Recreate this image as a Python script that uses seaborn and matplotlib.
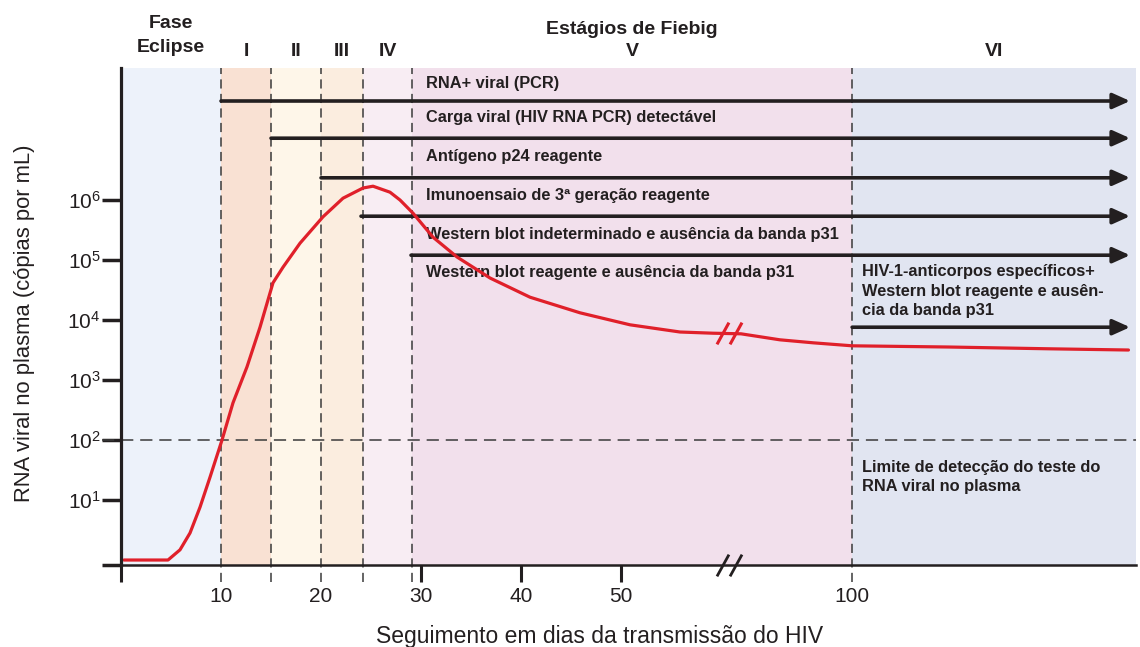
import numpy as np
import pandas as pd
import matplotlib
matplotlib.use("Agg")
import matplotlib.pyplot as plt
import matplotlib.transforms as mtransforms
from matplotlib.path import Path
from matplotlib.ticker import FixedLocator, NullLocator
import seaborn as sns

sns.set_theme(style="white")
NARROW = ['Liberation Sans Narrow', 'Liberation Sans', 'DejaVu Sans']
REGULAR = ['Liberation Sans', 'DejaVu Sans']
plt.rcParams['font.family'] = REGULAR
plt.rcParams['mathtext.fontset'] = 'custom'
plt.rcParams['mathtext.rm'] = 'Liberation Sans'
plt.rcParams['mathtext.it'] = 'Liberation Sans:italic'
plt.rcParams['mathtext.bf'] = 'Liberation Sans:bold'

# --- data ---
# viral load curve: days after transmission, log10 RNA copies/mL
days = [0.3, 4.7, 5.9, 6.9, 7.9, 8.9, 10.1, 11.2, 12.6, 13.9, 15.2, 16.2,
        17.9, 20.2, 22.2, 24.2, 25.2, 26.9, 27.9, 29.2, 31.2, 33.6, 36.9,
        40.9, 45.9, 50.9, 55.9, 59.2, 64.6, 77.0, 87.6, 100, 130.7, 163, 188]
log_rna = [0.0, 0.0, 0.17, 0.45, 0.88, 1.38, 2.0, 2.62, 3.22, 3.88, 4.62, 4.88,
           5.28, 5.72, 6.03, 6.20, 6.23, 6.13, 6.0, 5.78, 5.38, 5.05, 4.70,
           4.38, 4.12, 3.92, 3.80, 3.78, 3.77, 3.67, 3.62, 3.57, 3.55, 3.52, 3.50]

# Fiebig stages
stage_names = ['I', 'II', 'III', 'IV', 'V', 'VI']
stage_edges = [0, 10, 15, 20, 24.2, 29.1, 100, 190.4]
stage_colors = ['#EDF2FA', '#F9E1D3', '#FEF6E9', '#FBEDDF', '#F8EDF3', '#F2E0EC', '#E1E5F1']

# diagnostic tests (arrows)
arrow_start = [10, 15, 20, 24, 29, 100]
arrow_log_y = [7.65, 7.03, 6.37, 5.73, 5.08, 3.88]
ARROW_END = 188.5

test_labels = ['RNA+ viral (PCR)',
               'Carga viral (HIV RNA PCR) detectável',
               'Antígeno p24 reagente',
               'Imunoensaio de 3ª geração reagente',
               'Western blot indeterminado e ausência da banda p31',
               'Western blot reagente e ausência da banda p31',
               'HIV-1-anticorpos específicos+\nWestern blot reagente e ausên-\ncia da banda p31',
               'Limite de detecção do teste do\nRNA viral no plasma']
label_x = [30.5, 30.5, 30.5, 30.5, 30.5, 30.5, 103.2, 103.2]
label_log_y = [7.95, 7.38, 6.72, 6.07, 5.43, 4.80, 4.48, 1.38]

LOD = 100  # copies/mL
x_ticks = [0, 10, 20, 30, 40, 50, 100]
x_ticklabels = ['', '10', '20', '30', '40', '50', '100']
y_ticks_exp = [1, 2, 3, 4, 5, 6]

# --- broken x axis: days beyond BREAK are squeezed ---
BREAK = 60.8
SQUEEZE = 0.314


def fwd(d):
    d = np.asarray(d, dtype=float)
    return np.where(d <= BREAK, d, BREAK + (d - BREAK) * SQUEEZE)


def inv(c):
    c = np.asarray(c, dtype=float)
    return np.where(c <= BREAK, c, BREAK + (c - BREAK) / SQUEEZE)


INK = '#231F20'
RED = '#E0202A'
DASH = '#3A3A3A'
YMIN, YMAX = 10 ** -0.083, 10 ** 8.2

df = pd.DataFrame({'dia': days, 'rna': 10 ** np.array(log_rna)})

fig = plt.figure(figsize=(11.4, 6.47), dpi=100)
ax = fig.add_axes([121 / 1140, 82 / 647, 1015 / 1140, 497 / 647])
ax.set_xscale('function', functions=(fwd, inv))
ax.set_yscale('log')
ax.set_xlim(stage_edges[0], stage_edges[-1])
ax.set_ylim(YMIN, YMAX)

# stage backgrounds
for a, b, col in zip(stage_edges[:-1], stage_edges[1:], stage_colors):
    ax.axvspan(a, b, color=col, lw=0, zorder=0)
for e in stage_edges[1:-1]:
    ax.axvline(e, ymin=-17 / 497, ymax=1, color=DASH, lw=1.1,
               ls=(0, (6, 3.5)), clip_on=False, zorder=1)
ax.axhline(LOD, xmin=-19 / 1015, xmax=1, color=DASH, lw=1.1,
           ls=(0, (8, 4.5)), clip_on=False, zorder=1)

# arrows
for s, ly in zip(arrow_start, arrow_log_y):
    ax.annotate('', xy=(ARROW_END, 10 ** ly), xytext=(s, 10 ** ly),
                arrowprops=dict(arrowstyle='-|>,head_length=0.8,head_width=0.36',
                                mutation_scale=13, lw=2.6, color=INK,
                                shrinkA=0, shrinkB=0), zorder=3)

for txt, lx, ly in zip(test_labels, label_x, label_log_y):
    ax.text(lx, 10 ** ly, txt, family=NARROW, fontweight='bold', fontsize=11.8,
            color=INK, ha='left', va='center', linespacing=1.38, zorder=4)

# viral load curve
sns.lineplot(data=df, x='dia', y='rna', ax=ax, color=RED, lw=2.3,
             sort=False, estimator=None, zorder=5)

# break marks
brk = Path([(-1.15, -1), (-0.05, 1), (0.05, -1), (1.15, 1)],
           [Path.MOVETO, Path.LINETO, Path.MOVETO, Path.LINETO])
ax.plot([BREAK], [10 ** np.interp(BREAK, days, log_rna)], marker=brk, ms=18,
        mew=2.2, color=RED, mfc='none', ls='none', zorder=6)
ax.plot([BREAK], [YMIN], marker=brk, ms=18, mew=2.0, color=INK, mfc='none',
        ls='none', clip_on=False, zorder=6)

# stage titles
tr = mtransforms.blended_transform_factory(ax.transData, ax.transAxes)
centers = [float(inv((fwd(a) + fwd(b)) / 2)) for a, b in zip(stage_edges[:-1], stage_edges[1:])]
ax.text(centers[0], 1 + 45 / 497, 'Fase', transform=tr, ha='center', va='center',
        family=NARROW, fontweight='bold', fontsize=14, color=INK)
ax.text(centers[0], 1 + 20 / 497, 'Eclipse', transform=tr, ha='center', va='center',
        family=NARROW, fontweight='bold', fontsize=14, color=INK)
for c, name in zip(centers[1:], stage_names):
    ax.text(c, 1 + 16 / 497, name, transform=tr, ha='center', va='center',
            family=NARROW, fontweight='bold', fontsize=14, color=INK)
ax.text(centers[5], 1 + 38 / 497, 'Estágios de Fiebig', transform=tr, ha='center',
        va='center', family=NARROW, fontweight='bold', fontsize=14, color=INK)

# axes styling
ax.grid(False)
for side in ['top', 'right']:
    ax.spines[side].set_visible(False)
ax.spines['left'].set_linewidth(2.3)
ax.spines['left'].set_color(INK)
ax.spines['bottom'].set_linewidth(1.8)
ax.spines['bottom'].set_color(INK)
ax.spines['left'].set_zorder(7)
ax.spines['bottom'].set_zorder(7)

ax.xaxis.set_major_locator(FixedLocator(x_ticks))
ax.set_xticklabels(x_ticklabels)
ax.xaxis.set_minor_locator(NullLocator())
ax.yaxis.set_major_locator(FixedLocator([YMIN] + [10 ** e for e in y_ticks_exp]))
ax.set_yticklabels([''] + ['$10^{%d}$' % e for e in y_ticks_exp])
ax.yaxis.set_minor_locator(NullLocator())
ax.tick_params(axis='x', bottom=True, length=12.2, width=2.2, pad=4, labelsize=15,
               colors=INK, direction='out')
ax.tick_params(axis='y', left=True, length=13.7, width=2.5, pad=1, labelsize=15,
               colors=INK, direction='out')
for t, v in zip(ax.xaxis.get_major_ticks(), x_ticks):
    if v in stage_edges[1:-1]:
        t.tick1line.set_visible(False)

ax.set_xlabel('')
ax.set_ylabel('')
fig.text(600 / 1140, 1 - 637 / 647, 'Seguimento em dias da transmissão do HIV',
         ha='center', va='center', fontsize=16.5, color=INK)
fig.text(25 / 1140, 1 - 323 / 647, 'RNA viral no plasma (cópias por mL)',
         ha='center', va='center', rotation=90, fontsize=15.8, color=INK)

fig.savefig('out.png', dpi=100)
